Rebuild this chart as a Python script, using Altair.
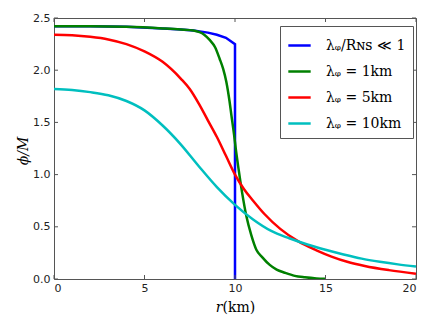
import altair as alt
import pandas as pd

# ---- data ----
series_names = ["λᵩ/Rɴꜱ ≪ 1", "λᵩ = 1km", "λᵩ = 5km", "λᵩ = 10km"]
colors = ["#0000ff", "#008000", "#ff0000", "#00bfbf"]

blue_r = [0, 2, 4, 6, 7, 7.7, 8.5, 9, 9.5, 10, 10]
blue_phi = [2.42, 2.42, 2.415, 2.40, 2.39, 2.38, 2.36, 2.34, 2.31, 2.25, 0.0]

green_r = [0, 2, 4, 6, 7, 7.7, 8.3, 8.6, 8.9, 9.15, 9.35, 9.52, 9.7, 9.8, 9.95,
           10.04, 10.2, 10.4, 10.63, 10.9, 11.18, 11.5, 11.92, 12.3, 12.75, 13.3,
           13.86, 14.5, 15]
green_phi = [2.42, 2.42, 2.415, 2.40, 2.39, 2.38, 2.34, 2.29, 2.22, 2.11, 2.01,
             1.89, 1.70, 1.57, 1.38, 1.25, 1.05, 0.82, 0.60, 0.42, 0.28, 0.21,
             0.135, 0.09, 0.06, 0.03, 0.016, 0.006, 0.003]

red_r = [0, 1, 2, 3, 4, 5, 6, 7, 7.5, 8, 8.5, 9, 9.5, 10, 10.5, 11, 11.64, 12.5,
         13.5, 14.5, 15.33, 16.2, 17.17, 18.5, 20]
red_phi = [2.34, 2.335, 2.32, 2.295, 2.25, 2.18, 2.08, 1.92, 1.82, 1.68, 1.52, 1.36,
           1.18, 1.0, 0.86, 0.75, 0.62, 0.48, 0.36, 0.275, 0.215, 0.165, 0.125, 0.085,
           0.05]

cyan_r = [0, 1, 2, 3, 4, 5, 6, 7, 8, 9, 10, 11, 12, 13, 14, 15, 16, 17, 18, 19, 20]
cyan_phi = [1.82, 1.81, 1.79, 1.76, 1.705, 1.615, 1.47, 1.29, 1.08, 0.88, 0.71, 0.57,
            0.46, 0.39, 0.33, 0.28, 0.235, 0.195, 0.165, 0.14, 0.12]

x_ticks = [0, 5, 10, 15, 20]
y_ticks = [0.0, 0.5, 1.0, 1.5, 2.0, 2.5]

# ---- build table ----
rows = []
for name, rs, ps in zip(series_names, [blue_r, green_r, red_r, cyan_r],
                        [blue_phi, green_phi, red_phi, cyan_phi]):
    for i, (r, p) in enumerate(zip(rs, ps)):
        rows.append({"r": r, "phi": p, "series": name, "idx": i})
df = pd.DataFrame(rows)

W, H = 362, 261
xscale = alt.Scale(domain=[0, 20], nice=False)
yscale = alt.Scale(domain=[0, 2.5], nice=False)

x_enc = alt.X("r:Q", scale=xscale,
              axis=alt.Axis(values=x_ticks, format="d", ticks=False, domain=False, grid=False,
                            title="𝑟(km)", titleFont="DejaVu Serif", titleFontSize=14,
                            titleFontWeight="normal", titleColor="#000",
                            titleY=28, titleBaseline="middle",
                            labelFont="DejaVu Sans", labelFontSize=11, labelColor="#222",
                            labelPadding=3))
y_enc = alt.Y("phi:Q", scale=yscale,
              axis=alt.Axis(values=y_ticks, format=".1f", ticks=False, domain=False, grid=False,
                            title="ϕ/M", titleFont="DejaVu Serif", titleFontSize=14,
                            titleFontStyle="italic", titleFontWeight="normal", titleColor="#000",
                            titleX=-31, titleY=H / 2 + 2, titleBaseline="middle",
                            titleAlign="center",
                            labelFont="DejaVu Sans", labelFontSize=11, labelColor="#222",
                            labelPadding=4))
c_enc = alt.Color("series:N", scale=alt.Scale(domain=series_names, range=colors),
                  legend=alt.Legend(title=None, orient="none", legendX=226, legendY=8,
                                    symbolType="stroke", symbolStrokeWidth=2.5,
                                    symbolSize=500, labelFont="DejaVu Serif",
                                    labelFontSize=14, labelColor="#000",
                                    strokeColor="#555", fillColor="white",
                                    padding=7, rowPadding=6, labelOffset=14,
                                    cornerRadius=0))

base = alt.Chart(df).encode(x=x_enc, y=y_enc, color=c_enc, order="idx:Q")
blue_line = base.transform_filter(alt.datum.series == series_names[0]).mark_line(
    strokeWidth=2.5, clip=True)
smooth_lines = base.transform_filter(alt.datum.series != series_names[0]).mark_line(
    strokeWidth=2.5, clip=True, interpolate="monotone")

xt = pd.DataFrame({"t": x_ticks})
yt = pd.DataFrame({"t": y_ticks})
tick_style = dict(color="#555", strokeWidth=1)
xb = alt.Chart(xt).mark_rule(**tick_style).encode(
    x=alt.X("t:Q", scale=xscale), y=alt.value(H), y2=alt.value(H - 4))
xtop = alt.Chart(xt).mark_rule(**tick_style).encode(
    x=alt.X("t:Q", scale=xscale), y=alt.value(0), y2=alt.value(4))
yl = alt.Chart(yt).mark_rule(**tick_style).encode(
    y=alt.Y("t:Q", scale=yscale), x=alt.value(0), x2=alt.value(4))
yr = alt.Chart(yt).mark_rule(**tick_style).encode(
    y=alt.Y("t:Q", scale=yscale), x=alt.value(W), x2=alt.value(W - 4))

chart = alt.layer(blue_line, smooth_lines, xb, xtop, yl, yr).properties(
    width=W, height=H, autosize="none",
    padding={"left": 46, "top": 10, "right": 12, "bottom": 42},
).configure_view(stroke="#555", strokeWidth=1)

chart.save("out.html", embed_options={"renderer": "svg", "actions": False})
